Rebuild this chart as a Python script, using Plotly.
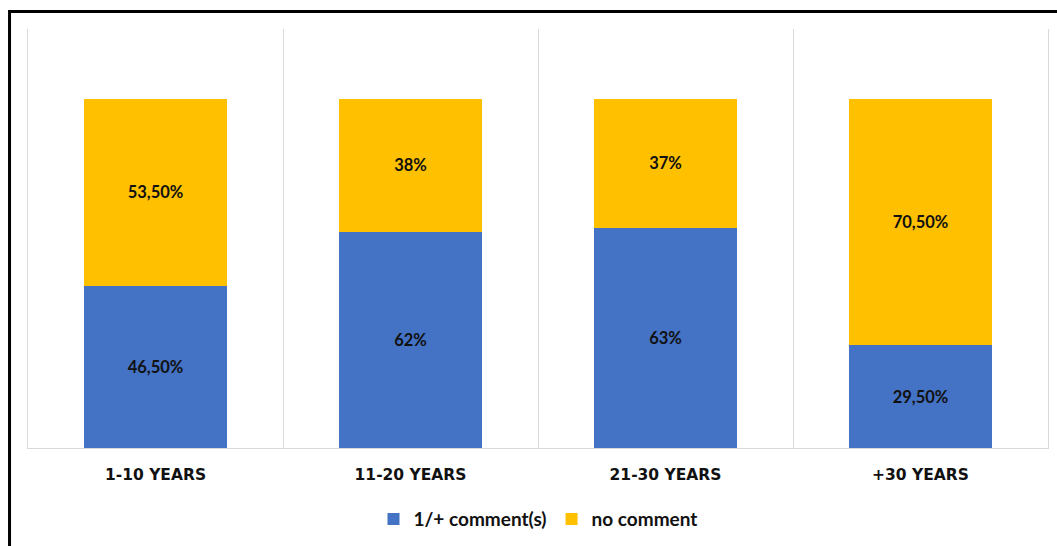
import plotly.graph_objects as go

# Share of respondents by years of experience
categories = ["1-10 YEARS", "11-20 YEARS", "21-30 YEARS", "+30 YEARS"]
with_comment = [46.5, 62, 63, 29.5]
no_comment = [53.5, 38, 37, 70.5]
with_comment_labels = ["46,50%", "62%", "63%", "29,50%"]
no_comment_labels = ["53,50%", "38%", "37%", "70,50%"]

BLUE = "#4472C4"
GOLD = "#FFC000"
label_font = dict(family="Lato", size=16.5, color="#111111", weight="bold")

fig = go.Figure()
fig.add_trace(go.Bar(
    x=categories, y=with_comment, name="1/+ comment(s)",
    marker=dict(color=BLUE, line=dict(width=0)),
    text=with_comment_labels, textposition="inside",
    insidetextanchor="middle", textangle=0,
    textfont=label_font, width=0.557, hoverinfo="skip",
))
fig.add_trace(go.Bar(
    x=categories, y=no_comment, name="no comment",
    marker=dict(color=GOLD, line=dict(width=0)),
    text=no_comment_labels, textposition="inside",
    insidetextanchor="middle", textangle=0,
    textfont=label_font, width=0.557, hoverinfo="skip",
))

fig.update_layout(
    barmode="stack",
    width=1057, height=546,
    margin=dict(l=28, r=9, t=29, b=97),
    paper_bgcolor="white", plot_bgcolor="white",
    uniformtext=dict(mode=False),
    showlegend=True,
    legend=dict(
        orientation="h", x=0.5, xanchor="center",
        y=-0.167, yanchor="middle",
        font=dict(family="Lato", size=19, color="#111111", weight="bold"),
        itemwidth=30, traceorder="normal",
    ),
    xaxis=dict(
        type="category", tickson="boundaries",
        showgrid=True, gridcolor="#d9d9d9", gridwidth=1,
        showline=True, linecolor="#d9d9d9", linewidth=1,
        ticks="", ticklabelstandoff=12,
        tickfont=dict(family="DejaVu Sans", size=15.5, color="#111111", weight="bold"),
        zeroline=False,
    ),
    yaxis=dict(
        range=[0, 120], showgrid=False, showticklabels=False,
        zeroline=False, ticks="",
        showline=True, mirror=True, linecolor="#d9d9d9", linewidth=1,
    ),
    shapes=[dict(
        type="rect", xref="paper", yref="paper",
        x0=-0.0181, x1=1.05, y0=-0.3, y1=1.0417,
        line=dict(color="black", width=3), fillcolor="rgba(0,0,0,0)",
        layer="above",
    )],
)

fig.write_html("out.html")
